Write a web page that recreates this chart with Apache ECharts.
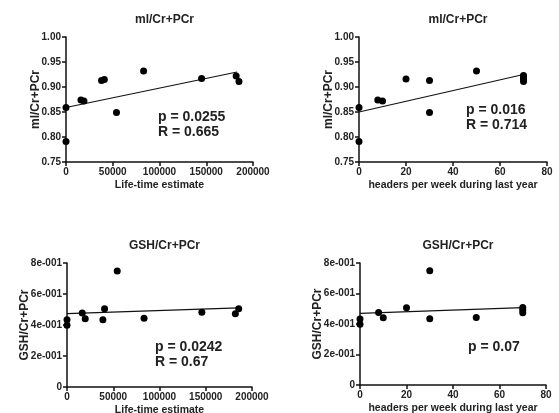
<!DOCTYPE html>
<html>
<head>
<meta charset="utf-8">
<script src="https://cdn.jsdelivr.net/npm/echarts@6/dist/echarts.min.js"></script>
<style>
  html, body { margin: 0; padding: 0; background: #fff; }
  #chart { width: 559px; height: 413px; }
</style>
</head>
<body>
<div id="chart"></div>
<script>
// panel 1: ml/Cr+PCr vs life-time estimate
const mlLifeX = [0, 0, 16000, 19200, 38000, 41000, 54000, 83000, 145000, 182000, 185000]
const mlLifeY = [0.859, 0.791, 0.874, 0.872, 0.913, 0.915, 0.849, 0.932, 0.917, 0.922, 0.911]
const mlLifeFit = [[0, 0.859], [183000, 0.930]]

// panel 2: ml/Cr+PCr vs headers per week
const mlHeadX = [0, 0, 8, 10, 20, 30, 30, 50, 70, 70, 70, 70]
const mlHeadY = [0.859, 0.791, 0.874, 0.872, 0.916, 0.913, 0.849, 0.932, 0.923, 0.919, 0.915, 0.911]
const mlHeadFit = [[0, 0.850], [70, 0.925]]

// panel 3: GSH/Cr+PCr vs life-time estimate
const gshLifeX = [0, 0, 16500, 19700, 38800, 40600, 54300, 83300, 145800, 182000, 185600]
const gshLifeY = [0.434, 0.398, 0.477, 0.441, 0.434, 0.505, 0.748, 0.443, 0.482, 0.473, 0.505]
const gshLifeFit = [[0, 0.473], [185600, 0.511]]

// panel 4: GSH/Cr+PCr vs headers per week
const gshHeadX = [0, 0, 8, 10, 20, 30, 30, 50, 70, 70, 70]
const gshHeadY = [0.433, 0.398, 0.476, 0.441, 0.507, 0.750, 0.435, 0.443, 0.509, 0.491, 0.474]
const gshHeadFit = [[0, 0.470], [70, 0.507]]

const titles = ['ml/Cr+PCr', 'ml/Cr+PCr', 'GSH/Cr+PCr', 'GSH/Cr+PCr']
const xNames = ['Life-time estimate', 'headers per week during last year', 'Life-time estimate', 'headers per week during last year']
const statLines = [['p = 0.0255', 'R = 0.665'], ['p = 0.016', 'R = 0.714'], ['p = 0.0242', 'R = 0.67'], ['p = 0.07']]

const font = '"Liberation Sans", Arial, Helvetica, sans-serif'

const grids = [
  { left: 66, top: 37, width: 187, height: 125, outerBoundsMode: 'none' },
  { left: 359, top: 37, width: 188, height: 125, outerBoundsMode: 'none' },
  { left: 67, top: 263, width: 185, height: 124, outerBoundsMode: 'none' },
  { left: 360, top: 263, width: 186, height: 122, outerBoundsMode: 'none' },
]

function sciLabel(v) {
  if (v === 0) return '0'
  const exp = Math.floor(Math.log10(Math.abs(v)) + 1e-9)
  const mant = Math.round(v / Math.pow(10, exp))
  const sign = exp < 0 ? '-' : '+'
  return mant + 'e' + sign + String(Math.abs(exp)).padStart(3, '0')
}

const axisBase = {
  axisLine: { show: true, onZero: false, lineStyle: { color: '#111', width: 1.5 } },
  axisTick: { show: true, inside: false, length: 4, lineStyle: { color: '#111', width: 1.5 } },
  splitLine: { show: false },
  axisLabel: { color: '#222', fontSize: 10, fontWeight: 'bold', fontFamily: font },
  nameTextStyle: { color: '#222', fontWeight: 'bold', fontFamily: font },
  nameMoveOverlap: false,
}

const xRanges = [
  { max: 200000, interval: 50000 },
  { max: 80, interval: 20 },
  { max: 200000, interval: 50000 },
  { max: 80, interval: 20 },
]

const xAxes = grids.map((g, i) => ({
  ...axisBase,
  type: 'value',
  gridIndex: i,
  min: 0,
  max: xRanges[i].max,
  interval: xRanges[i].interval,
  name: xNames[i],
  nameLocation: 'middle',
  nameGap: 18,
  nameTextStyle: { ...axisBase.nameTextStyle, fontSize: 10.5 },
  axisLabel: { ...axisBase.axisLabel, margin: 5, formatter: (v) => String(v) },
}))

const yAxes = grids.map((g, i) => {
  const top = i < 2
  return {
    ...axisBase,
    type: 'value',
    gridIndex: i,
    min: top ? 0.75 : 0,
    max: top ? 1.0 : 0.8,
    interval: top ? 0.05 : 0.2,
    name: titles[i],
    nameLocation: 'middle',
    nameGap: top ? 24 : 36,
    nameTextStyle: { ...axisBase.nameTextStyle, fontSize: 12 },
    axisLabel: {
      ...axisBase.axisLabel,
      margin: 5,
      formatter: top ? (v) => v.toFixed(2) : sciLabel,
    },
  }
})

const pointSets = [
  [mlLifeX, mlLifeY],
  [mlHeadX, mlHeadY],
  [gshLifeX, gshLifeY],
  [gshHeadX, gshHeadY],
]
const fits = [mlLifeFit, mlHeadFit, gshLifeFit, gshHeadFit]

const series = []
pointSets.forEach(([xs, ys], i) => {
  series.push({
    type: 'line',
    xAxisIndex: i,
    yAxisIndex: i,
    data: fits[i],
    symbol: 'none',
    lineStyle: { color: '#111', width: 1.2 },
    silent: true,
    z: 2,
  })
  series.push({
    type: 'scatter',
    xAxisIndex: i,
    yAxisIndex: i,
    data: xs.map((x, k) => [x, ys[k]]),
    symbolSize: 7,
    clip: false,
    itemStyle: { color: '#000', opacity: 1 },
    z: 3,
  })
})

const title = grids.map((g, i) => ({
  text: titles[i],
  left: g.left + g.width / 2,
  top: i < 2 ? 9 : 235,
  textAlign: 'center',
  textStyle: { color: '#222', fontSize: 12, fontWeight: 'bold', fontFamily: font },
}))

const statPos = [
  { x: 158, y: 110 },
  { x: 466, y: 103 },
  { x: 155, y: 340 },
  { x: 468, y: 340 },
]
const graphic = statLines.map((lines, i) => ({
  type: 'text',
  left: statPos[i].x,
  top: statPos[i].y,
  style: {
    text: lines.join('\n'),
    fill: '#222',
    font: 'bold 14px ' + font,
    lineHeight: 15,
  },
}))

const chart = echarts.init(document.getElementById('chart'), null, { renderer: 'canvas' })
chart.setOption({
  animation: false,
  backgroundColor: '#fff',
  title,
  grid: grids,
  xAxis: xAxes,
  yAxis: yAxes,
  series,
  graphic,
})
</script>
</body>
</html>
